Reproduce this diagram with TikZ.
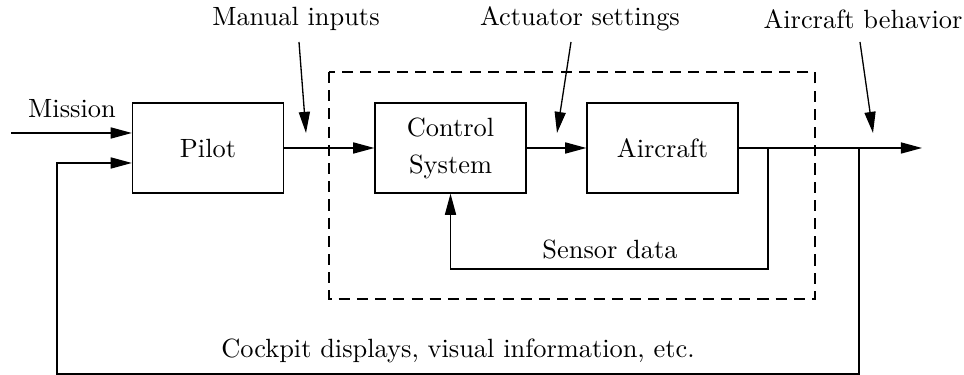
\documentclass[tikz,border=0pt]{standalone}
\usetikzlibrary{arrows.meta}
\begin{document}
\def\u{0.379pt}
\begin{tikzpicture}[x=\u, y=-\u,
  block/.style={draw, line width=0.5pt, minimum width=151*\u, minimum height=90*\u, align=center, inner sep=0pt},
  wire/.style={line width=0.5pt},
  arr/.style={wire, -{Triangle[length=8pt, width=4.2pt]}},
  lbl/.style={inner sep=0pt, align=center}]
\useasboundingbox (0,0) rectangle (964,375);

% blocks
\node[block] (pilot) at (208,148) {Pilot};
\node[block] (ctrl)  at (450.5,148) {Control\\[2pt]System};
\node[block] (plane) at (662.5,148) {Aircraft};

% controller boundary
\draw[line width=0.5pt, dash pattern=on 4.2pt off 2.7pt] (329,72) rectangle (815,299);

% free ends and branch points
\coordinate (mis) at (11,133);
\coordinate (fbin) at (57,163);
\coordinate (out) at (922,148);
\coordinate (sbr) at (768,148);
\coordinate (fbr) at (859,148);

% forward path
\draw[arr] (mis) -- (mis -| pilot.west);
\draw[arr] (pilot.east) -- (ctrl.west);
\draw[arr] (ctrl.east) -- (plane.west);
\draw[arr] (plane.east) -- (out);

% inner sensor loop
\draw[arr] (sbr) -- (768,269) -| (ctrl.south);

% outer pilot loop
\draw[arr] (fbr) -- (859,374) -| (fbin) -- (fbin -| pilot.west);

% labels
\node[lbl] (lmis) at (72,109) {Mission};
\node[lbl] (lman) at (296,19) {Manual inputs};
\node[lbl] (lact) at (580,19) {Actuator settings};
\node[lbl] (lbeh) at (863,19) {Aircraft behavior};
\node[lbl] (lsen) at (610,249) {Sensor data};
\node[lbl] (lcock) at (458,351) {Cockpit displays, visual information, etc.};

% label pointers
\coordinate (manA) at (299,42);  \coordinate (manB) at (306,133);
\coordinate (actA) at (571,42);  \coordinate (actB) at (557,133);
\coordinate (behA) at (860,42);  \coordinate (behB) at (873,133);
\draw[arr] (manA) -- (manB);
\draw[arr] (actA) -- (actB);
\draw[arr] (behA) -- (behB);
\end{tikzpicture}
\end{document}
